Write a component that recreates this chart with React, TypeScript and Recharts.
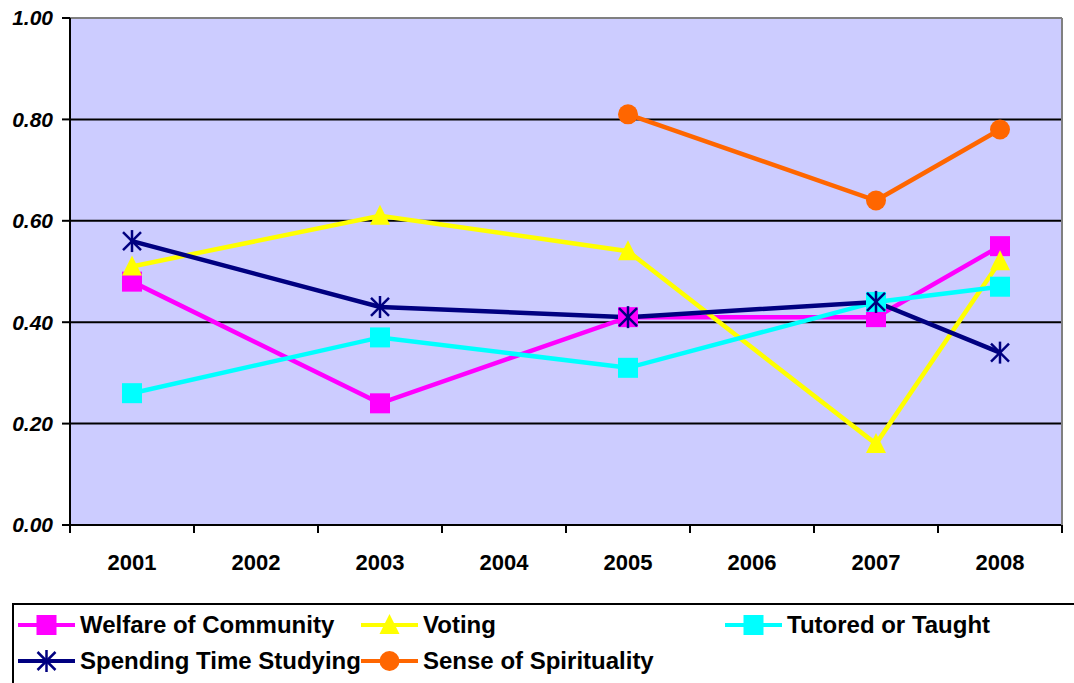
import React from 'react';
import { LineChart, Line, XAxis, YAxis, CartesianGrid, ReferenceLine } from 'recharts';

// category labels and series values
const years = ['2001', '2002', '2003', '2004', '2005', '2006', '2007', '2008'];
const welfare = [0.48, null, 0.24, null, 0.41, null, 0.41, 0.55];
const voting = [0.51, null, 0.61, null, 0.54, null, 0.16, 0.52];
const tutored = [0.26, null, 0.37, null, 0.31, null, 0.44, 0.47];
const studying = [0.56, null, 0.43, null, 0.41, null, 0.44, 0.34];
const spirituality = [null, null, null, null, 0.81, null, 0.64, 0.78];
const yTicks = [0, 0.2, 0.4, 0.6, 0.8, 1];

const data = years.map((year, i) => ({
  year,
  welfare: welfare[i],
  voting: voting[i],
  tutored: tutored[i],
  studying: studying[i],
  spirituality: spirituality[i],
}));

const FONT = '"Liberation Sans", Arial, sans-serif';
const STEP = 124;

type Shape = 'square' | 'triangle' | 'star' | 'circle';

function Marker({ shape, cx, cy, color }: { shape: Shape; cx: number; cy: number; color: string }) {
  if (shape === 'square') return <rect x={cx - 10} y={cy - 10} width={20} height={20} fill={color} />;
  if (shape === 'triangle')
    return <polygon points={`${cx},${cy - 11} ${cx - 10},${cy + 9} ${cx + 10},${cy + 9}`} fill={color} />;
  if (shape === 'circle') return <circle cx={cx} cy={cy} r={10} fill={color} />;
  return (
    <g stroke={color} strokeWidth={2.5}>
      <line x1={cx} y1={cy - 11} x2={cx} y2={cy + 11} />
      <line x1={cx - 9} y1={cy - 9} x2={cx + 9} y2={cy + 9} />
      <line x1={cx - 9} y1={cy + 9} x2={cx + 9} y2={cy - 9} />
    </g>
  );
}

const makeDot = (shape: Shape, color: string) => (props: any) => {
  const { cx, cy, index, value } = props;
  if (cx == null || cy == null || value == null) return <g key={`e-${index}`} />;
  return <Marker key={`m-${index}`} shape={shape} cx={cx} cy={cy} color={color} />;
};

const series: { key: string; name: string; color: string; shape: Shape }[] = [
  { key: 'welfare', name: 'Welfare of Community', color: '#FF00FF', shape: 'square' },
  { key: 'voting', name: 'Voting', color: '#FFFF00', shape: 'triangle' },
  { key: 'tutored', name: 'Tutored or Taught', color: '#00FFFF', shape: 'square' },
  { key: 'studying', name: 'Spending Time Studying', color: '#000080', shape: 'star' },
  { key: 'spirituality', name: 'Sense of Spirituality', color: '#FF6600', shape: 'circle' },
];

// legend slots (left of icon, centre y)
const legendPos = [
  { x: 18, y: 625 },
  { x: 361, y: 625 },
  { x: 725, y: 625 },
  { x: 18, y: 661 },
  { x: 361, y: 661 },
];

function XTick(props: any) {
  const { x, y, payload, index } = props;
  return (
    <g>
      <line x1={x - STEP / 2} y1={y} x2={x - STEP / 2} y2={y + 8} stroke="#000" strokeWidth={2} />
      {index === years.length - 1 && (
        <line x1={x + STEP / 2} y1={y} x2={x + STEP / 2} y2={y + 8} stroke="#000" strokeWidth={2} />
      )}
      <text x={x} y={y + 45} textAnchor="middle" fontFamily={FONT} fontWeight="bold" fontSize={22} fill="#000">
        {payload.value}
      </text>
    </g>
  );
}

export default function App() {
  return (
    <div style={{ position: 'absolute', left: 0, top: 0, width: 1074, height: 683, background: '#fff', overflow: 'hidden' }}>
      <LineChart width={1074} height={600} data={data} margin={{ top: 18, right: 11, left: 0, bottom: 0 }}>
        <CartesianGrid yAxisId="left" vertical={false} stroke="#000" strokeWidth={2} fill="#CCCCFF" fillOpacity={1} />
        <XAxis
          dataKey="year"
          padding={{ left: STEP / 2, right: STEP / 2 }}
          axisLine={{ stroke: '#000', strokeWidth: 2 }}
          tickLine={false}
          tickSize={0}
          tickMargin={0}
          height={75}
          interval={0}
          tick={<XTick />}
        />
        <YAxis
          yAxisId="left"
          domain={[0, 1]}
          ticks={yTicks}
          width={70}
          axisLine={{ stroke: '#000', strokeWidth: 2 }}
          tickLine={{ stroke: '#000', strokeWidth: 2 }}
          tickSize={8}
          tickMargin={9}
          tickFormatter={(v: number) => v.toFixed(2)}
          tick={{ fontFamily: FONT, fontSize: 21, fontWeight: 'bold', fontStyle: 'italic', fill: '#000' }}
        />
        <YAxis
          yAxisId="right"
          orientation="right"
          domain={[0, 1]}
          width={1}
          tick={false}
          tickLine={false}
          axisLine={{ stroke: '#808080', strokeWidth: 2 }}
        />
        <ReferenceLine yAxisId="left" y={1} stroke="#808080" strokeWidth={2} />
        {series.map((s) => (
          <Line
            key={s.key}
            yAxisId="left"
            type="linear"
            dataKey={s.key}
            name={s.name}
            stroke={s.color}
            strokeWidth={4.5}
            connectNulls
            dot={makeDot(s.shape, s.color)}
            activeDot={false}
            isAnimationActive={false}
          />
        ))}
      </LineChart>
      <div
        style={{
          position: 'absolute',
          left: 12,
          top: 603,
          width: 1100,
          height: 120,
          border: '2px solid #000',
          boxSizing: 'border-box',
        }}
      />
      <svg width={1074} height={683} style={{ position: 'absolute', left: 0, top: 0 }}>
        {series.map((s, i) => {
          const p = legendPos[i];
          return (
            <g key={s.key}>
              <line x1={p.x} y1={p.y} x2={p.x + 57} y2={p.y} stroke={s.color} strokeWidth={4} />
              <Marker shape={s.shape} cx={p.x + 28.5} cy={p.y} color={s.color} />
              <text x={p.x + 62} y={p.y + 8} fontFamily={FONT} fontWeight="bold" fontSize={24} fill="#000">
                {s.name}
              </text>
            </g>
          );
        })}
      </svg>
    </div>
  );
}
